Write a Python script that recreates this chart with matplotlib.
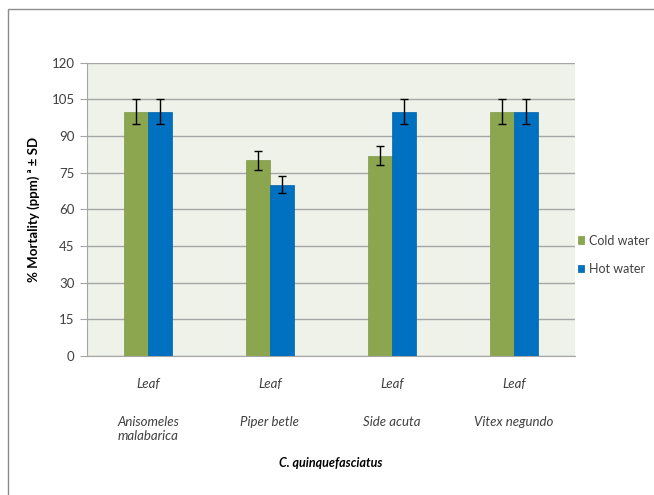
import numpy as np
import matplotlib
matplotlib.use("Agg")
import matplotlib.pyplot as plt
from matplotlib.patches import Rectangle

plt.rcParams['font.family'] = ['Lato', 'DejaVu Sans']

# Data
plants = ["Anisomeles\nmalabarica", "Piper betle", "Side acuta", "Vitex negundo"]
parts = ["Leaf", "Leaf", "Leaf", "Leaf"]
cold_water = [100, 80, 82, 100]
cold_sd = [5, 4, 4, 5]
hot_water = [100, 70, 100, 100]
hot_sd = [5, 3.5, 5, 5]
yticks = [0, 15, 30, 45, 60, 75, 90, 105, 120]

green = "#8BA64F"
blue = "#0070C0"
txt = "#404040"
fs = 9.5

fig = plt.figure(figsize=(6.54, 4.95), dpi=100)
fig.patches.append(Rectangle((8 / 654, -0.1), 1.2, 0.1 + 1 - 9 / 495,
                             transform=fig.transFigure, fill=False,
                             edgecolor="#8C8C8C", linewidth=1.0))
ax = fig.add_axes([87 / 654, 1 - 356 / 495, (575 - 87) / 654, (356 - 62.7) / 495])
ax.set_facecolor("#EFF2E8")

x = np.arange(len(plants))
w = 0.2
err_kw = dict(ecolor="black", capsize=3, elinewidth=1, capthick=1)
ax.bar(x - w / 2, cold_water, w, yerr=cold_sd, color=green, edgecolor="#7E9A46",
       linewidth=0.5, label="Cold water", error_kw=err_kw, zorder=3)
ax.bar(x + w / 2, hot_water, w, yerr=hot_sd, color=blue, edgecolor="#0063AA",
       linewidth=0.5, label="Hot water", error_kw=err_kw, zorder=3)

ax.set_xlim(-0.5, len(plants) - 0.5)
ax.set_ylim(0, 120)
ax.set_yticks(yticks)
ax.yaxis.grid(True, color="#A6A6A6", linewidth=1.0, zorder=0)
ax.set_axisbelow(True)
for side in ["top", "right"]:
    ax.spines[side].set_visible(False)
ax.spines["left"].set_color("#A6A6A6")
ax.spines["bottom"].set_color("#A6A6A6")
ax.tick_params(axis="y", direction="out", length=5, color="#A6A6A6",
               labelsize=fs, labelcolor=txt, pad=4)
ax.set_xticks(x)
ax.set_xticklabels(parts, style="italic", fontsize=fs, color=txt)
ax.tick_params(axis="x", length=0, pad=16)

for xi, name in zip(x, plants):
    ax.text(xi, -0.205, name, transform=ax.get_xaxis_transform(), ha="center",
            va="top", style="italic", fontsize=fs, color=txt, linespacing=1.2)

ax.text(0.5, -0.365, "C. quinquefasciatus", transform=ax.transAxes, ha="center",
        va="center", style="italic", fontweight="bold", fontsize=9, color="black")
ax.set_ylabel("% Mortality (ppm) \u1d43 \u00b1 SD", fontweight="bold", fontsize=9.5,
              labelpad=8)

leg = ax.legend(loc="center left", bbox_to_anchor=(0.995, 0.345), frameon=False,
                fontsize=9, handlelength=0.55, handleheight=0.55, handletextpad=0.35,
                labelspacing=1.3, borderaxespad=0)
for t in leg.get_texts():
    t.set_color(txt)

fig.savefig("out.png", dpi=100)
